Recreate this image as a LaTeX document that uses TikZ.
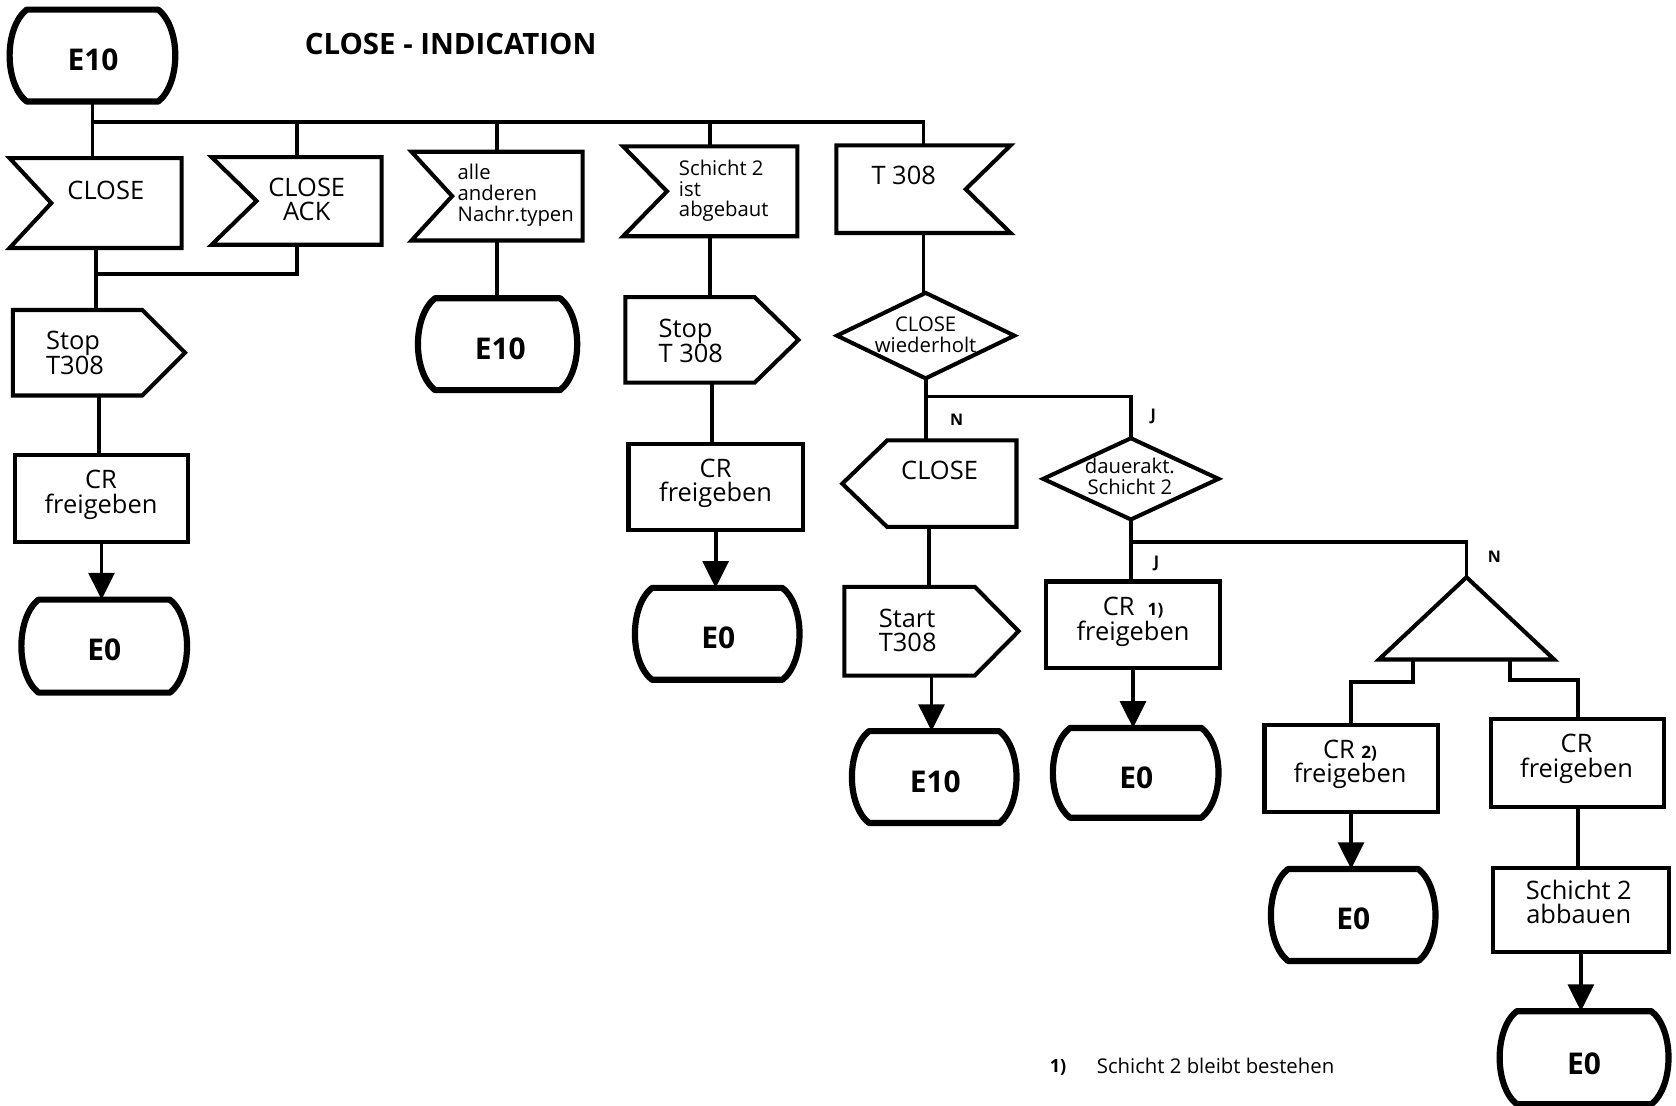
\documentclass[tikz,border=0pt]{standalone}
\usepackage{fontspec}
\setmainfont{Open Sans}
\usetikzlibrary{calc,arrows.meta}
\tikzset{
  shp/.style={draw=none, inner sep=0pt, outer sep=0pt},
  outl/.style={line width=3.8pt, line join=miter, miter limit=20},
  terml/.style={line width=5.8pt, line join=round},
  conn/.style={line width=3.6pt},
  arr/.style={line width=3.6pt, -{Triangle[width=24pt,length=25pt]}},
  lab/.style={font=\fontsize{23.8}{23}\selectfont, align=center, inner sep=0pt},
  llab/.style={font=\fontsize{23.8}{22}\selectfont, align=left, anchor=west, inner sep=0pt},
  slab/.style={font=\fontsize{19}{19.5}\selectfont, align=left, anchor=west, inner sep=0pt},
  sclab/.style={font=\fontsize{19}{19.5}\selectfont, align=center, inner sep=0pt},
  tlab/.style={font=\fontsize{28}{28}\selectfont\bfseries, inner sep=0pt},
  yn/.style={font=\fontsize{15}{15}\selectfont\bfseries, inner sep=0pt},
  titl/.style={font=\fontsize{27.5}{28}\selectfont\bfseries, anchor=west, inner sep=0pt},
  foot/.style={font=\fontsize{19}{19}\selectfont, anchor=west, inner sep=0pt},
}
\newcommand\nd[5]{\node[shp, minimum width=#4pt, minimum height=#5pt] (#1) at (#2,#3) {};}
\newcommand\termshape[1]{\draw[terml] ($(#1.north west)+(16,0)$) -- ($(#1.north east)+(-16,0)$)
  .. controls ($(#1.north east)+(5.33,17)$) and ($(#1.south east)+(5.33,-17)$) .. ($(#1.south east)+(-16,0)$)
  -- ($(#1.south west)+(16,0)$)
  .. controls ($(#1.south west)+(-5.33,-17)$) and ($(#1.north west)+(-5.33,17)$) .. cycle;}
\newcommand\recvL[2]{\draw[outl] (#1.north west) -- (#1.north east) -- (#1.south east) -- (#1.south west) -- ($(#1.west)+(#2,0)$) -- cycle;}
\newcommand\recvR[2]{\draw[outl] (#1.north west) -- (#1.north east) -- ($(#1.east)+(-#2,0)$) -- (#1.south east) -- (#1.south west) -- cycle;}
\newcommand\sendR[2]{\draw[outl] (#1.north west) -- ($(#1.north east)+(-#2,0)$) -- (#1.east) -- ($(#1.south east)+(-#2,0)$) -- (#1.south west) -- cycle;}
\newcommand\sendL[2]{\draw[outl] ($(#1.north west)+(#2,0)$) -- (#1.north east) -- (#1.south east) -- ($(#1.south west)+(#2,0)$) -- (#1.west) -- cycle;}
\newcommand\rectS[1]{\draw[outl] (#1.north west) rectangle (#1.south east);}
\newcommand\diaS[1]{\draw[outl] (#1.north) -- (#1.east) -- (#1.south) -- (#1.west) -- cycle;}
\newcommand\triS[1]{\draw[outl] (#1.north) -- (#1.south east) -- (#1.south west) -- cycle;}
\newcommand\fn[1]{{\fontsize{16}{16}\selectfont\bfseries #1}}
\begin{document}
\begin{tikzpicture}[x=1pt,y=-1pt]
\fill[white] (0,0) rectangle (1568,1034.7);
\useasboundingbox (0,0) rectangle (1568,1034.7);
% ---- shape frames
\nd{e10a}{86.5}{52}{155}{86}
\nd{close1}{89.5}{190}{161}{84}
\nd{closeack}{277.5}{188}{159}{82}
\nd{alle}{465}{183.5}{160}{83}
\nd{schicht}{664.5}{179}{163}{84}
\nd{t308}{864}{177}{163}{82}
\nd{stop1}{92.5}{330}{161}{80}
\nd{cr1}{95}{466.5}{162}{81}
\nd{e0a}{97.5}{604.5}{155}{87}
\nd{e10b}{465.5}{322}{149}{86}
\nd{stop2}{666}{318}{162}{80}
\nd{cr2}{669.5}{455.5}{163}{81}
\nd{e0b}{671}{593}{154}{86}
\nd{dia1}{866}{314}{166}{80}
\nd{closeS}{869.5}{452.5}{163}{81}
\nd{startS}{871.5}{590.5}{163}{83}
\nd{e10c}{874}{727}{154}{86}
\nd{dia2}{1058}{448}{164}{76}
\nd{cr1p}{1060}{584.5}{162}{81}
\nd{e0c}{1062.5}{723}{155}{84}
\nd{tri}{1372}{578.5}{164}{77}
\nd{cr2p}{1264}{719}{162}{82}
\nd{crR}{1476}{714}{162}{82}
\nd{e0d}{1266}{856}{154}{86}
\nd{sch2ab}{1479}{851.5}{164}{79}
\nd{e0e}{1482}{989.5}{158}{87}
% ---- outlines
\termshape{e10a}\termshape{e0a}\termshape{e10b}\termshape{e0b}
\termshape{e10c}\termshape{e0c}\termshape{e0d}\termshape{e0e}
\recvL{close1}{39}\recvL{closeack}{42}\recvL{alle}{38}\recvL{schicht}{41}
\recvR{t308}{42}
\sendR{stop1}{40}\sendR{stop2}{41}\sendR{startS}{41}
\sendL{closeS}{42}
\rectS{cr1}\rectS{cr2}\rectS{cr1p}\rectS{cr2p}\rectS{crR}\rectS{sch2ab}
\diaS{dia1}\diaS{dia2}
\triS{tri}
% ---- connectors
\coordinate (busY) at (0,114);
\coordinate (joinY) at (0,256);
\coordinate (br1Y) at (0,371);
\coordinate (br2Y) at (0,507);
\draw[conn] (e10a.south) -- (e10a.south |- close1.north);
\draw[conn] (e10a.south |- busY) -| (t308.north);
\draw[conn] (closeack.north |- busY) -- (closeack.north);
\draw[conn] (alle.north |- busY) -- (alle.north);
\draw[conn] (schicht.north |- busY) -- (schicht.north);
\draw[conn] (close1.south) -- (close1.south |- stop1.north);
\draw[conn] (closeack.south) |- (close1.south |- joinY);
\draw[conn] (stop1.south) -- (stop1.south |- cr1.north);
\draw[arr] (cr1.south) -- (cr1.south |- e0a.north);
\draw[conn] (alle.south) -- (alle.south |- e10b.north);
\draw[conn] (schicht.south) -- (schicht.south |- stop2.north);
\draw[conn] (stop2.south) -- (stop2.south |- cr2.north);
\draw[arr] (cr2.south) -- (cr2.south |- e0b.north);
\draw[conn] (t308.south) -- (t308.south |- dia1.north);
\draw[conn] (dia1.south) -- (dia1.south |- closeS.north);
\draw[conn] (dia1.south |- br1Y) -| (dia2.north);
\draw[conn] (closeS.south) -- (closeS.south |- startS.north);
\draw[arr] (startS.south) -- (startS.south |- e10c.north);
\draw[conn] (dia2.south) -- (dia2.south |- cr1p.north);
\draw[conn] (dia2.south |- br2Y) -| (tri.north);
\draw[arr] (cr1p.south) -- (cr1p.south |- e0c.north);
\draw[conn] ($(tri.south)+(-50,0)$) -- ++(0,21) -| (cr2p.north);
\draw[conn] ($(tri.south)+(41,0)$) -- ++(0,19) -| (crR.north);
\draw[arr] (cr2p.south) -- (cr2p.south |- e0d.north);
\draw[conn] (crR.south) -- (crR.south |- sch2ab.north);
\draw[arr] (sch2ab.south) -- (sch2ab.south |- e0e.north);
% ---- texts
\node[titl] (title) at (285,41) {CLOSE - INDICATION};
\node[tlab] (te10a) at (87,56) {E10};
\node[lab] (tclose1) at (99,178.5) {CLOSE};
\node[lab] (tcloseack) at (287,186.5) {CLOSE\\ACK};
\node[slab] (talle) at (428,182.5) {alle\\anderen\\Nachr.typen};
\node[slab] (tschicht) at (635,178.5) {Schicht 2\\ist\\abgebaut};
\node[lab] (tt308) at (845.5,164.5) {T 308};
\node[llab] (tstop1) at (43,330) {Stop\\T308};
\node[lab] (tcr1) at (94.5,463) {CR\\freigeben};
\node[tlab] (te0a) at (97.5,608) {E0};
\node[tlab] (te10b) at (468,326) {E10};
\node[llab] (tstop2) at (616,319) {Stop\\T 308};
\node[lab] (tcr2) at (669.5,452.3) {CR\\freigeben};
\node[tlab] (te0b) at (672,597) {E0};
\node[sclab] (tdia1) at (866,313) {CLOSE\\wiederholt};
\node[yn] (n1) at (895,393) {N};
\node[yn] (j1) at (1079,390) {J};
\node[lab] (tcloseS) at (879,440.5) {CLOSE};
\node[llab] (tstartS) at (822,590) {Start\\T308};
\node[tlab] (te10c) at (875,731) {E10};
\node[sclab] (tdia2) at (1057,446) {dauerakt.\\Schicht 2};
\node[yn] (j2) at (1082,527) {J};
\node[yn] (n2) at (1398,521) {N};
\node[lab] (tcr1p) at (1060,582) {CR \ \fn{1)}\\freigeben};
\node[tlab] (te0c) at (1063,728) {E0};
\node[lab] (tcr2p) at (1263,715) {CR \fn{2)}\\freigeben};
\node[lab] (tcrR) at (1475,710) {CR\\freigeben};
\node[tlab] (te0d) at (1266,860) {E0};
\node[lab] (tsch2ab) at (1477,844) {Schicht 2\\abbauen};
\node[tlab] (te0e) at (1482,995) {E0};
\node[foot, font=\fontsize{17}{17}\selectfont\bfseries] (fn1) at (982,999) {1)};
\node[foot] (fntext) at (1026,997) {Schicht 2 bleibt bestehen};
\end{tikzpicture}
\end{document}
